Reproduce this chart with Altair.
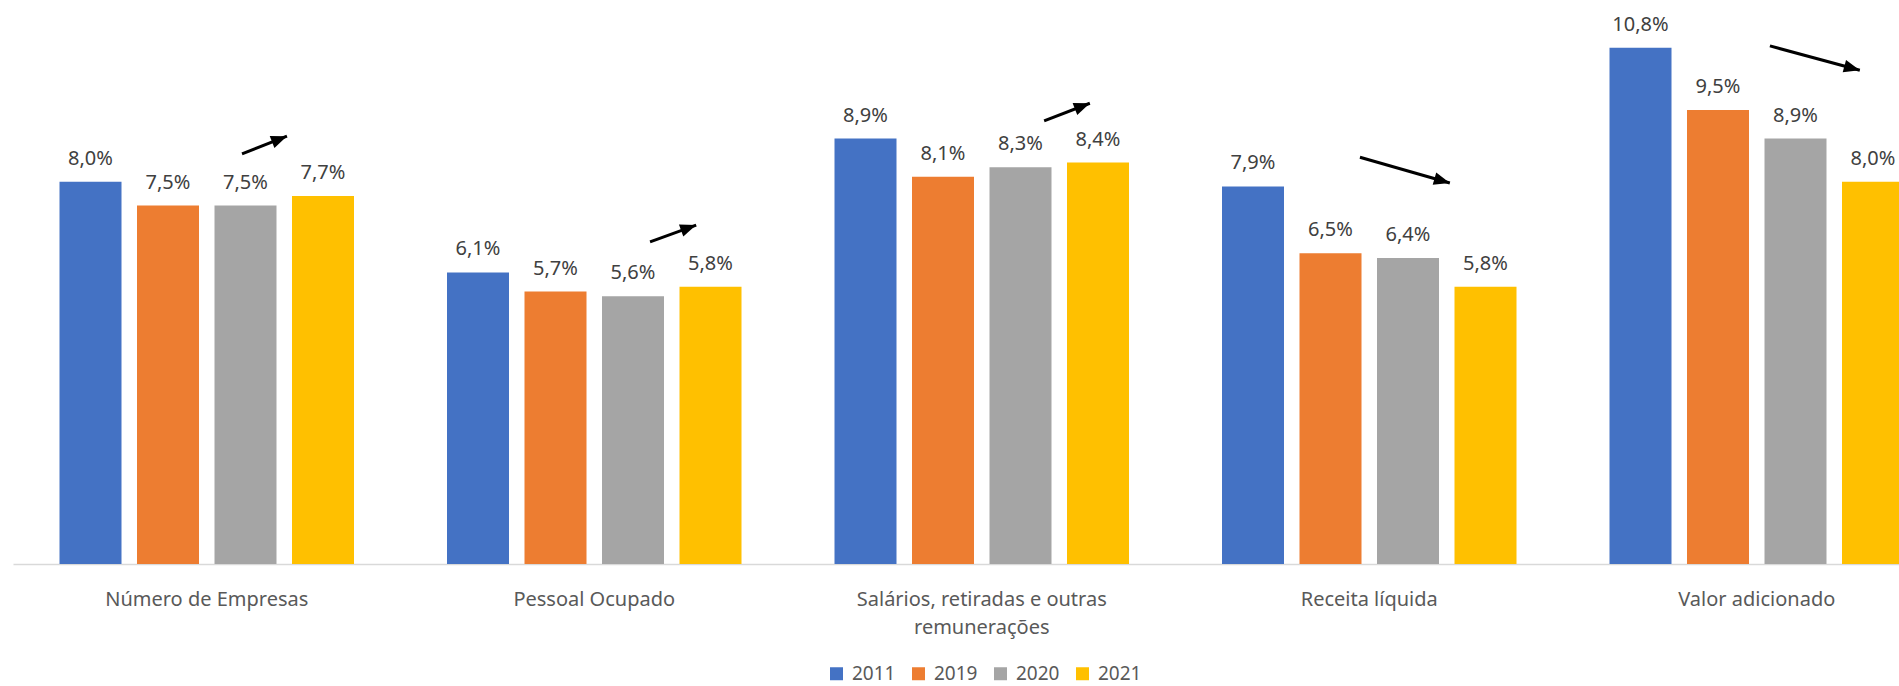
import math
import altair as alt
import pandas as pd

# ---- data -------------------------------------------------------------
categories = [
    "Número de Empresas",
    "Pessoal Ocupado",
    "Salários, retiradas e outras remunerações",
    "Receita líquida",
    "Valor adicionado",
]
years = ["2011", "2019", "2020", "2021"]
v2011 = [8.0, 6.1, 8.9, 7.9, 10.8]
v2019 = [7.5, 5.7, 8.1, 6.5, 9.5]
v2020 = [7.5, 5.6, 8.3, 6.4, 8.9]
v2021 = [7.7, 5.8, 8.4, 5.8, 8.0]
colors = ["#4472C4", "#ED7D31", "#A5A5A5", "#FFC000"]

# trend arrows: x in category-slot units (0..5), y in percent
arrow_x0 = [0.591, 1.644, 2.661, 3.476, 4.534]
arrow_y0 = [8.58, 6.74, 9.27, 8.51, 10.84]
arrow_x1 = [0.707, 1.763, 2.779, 3.708, 4.766]
arrow_y1 = [8.95, 7.09, 9.64, 7.97, 10.33]

# ---- layout -----------------------------------------------------------
FONT = "Noto Sans"
LEFT = 13
W = 1899 - LEFT
H = 564
XRANGE = 1937.5          # plot wider than window: last group is cut off
YMAX = 11.8

rows = []
for yr, vals in zip(years, [v2011, v2019, v2020, v2021]):
    for c, v in zip(categories, vals):
        rows.append({"cat": c, "year": yr, "value": v})
df = pd.DataFrame(rows)

px_x = XRANGE / len(categories)
px_y = H / YMAX
angles = [
    math.degrees(math.atan2((x1 - x0) * px_x, (y1 - y0) * px_y))
    for x0, y0, x1, y1 in zip(arrow_x0, arrow_y0, arrow_x1, arrow_y1)
]
arrows = pd.DataFrame({"x0": arrow_x0, "y0": arrow_y0, "x1": arrow_x1,
                       "y1": arrow_y1, "angle": angles})

yscale = alt.Scale(domain=[0, YMAX], nice=False, zero=True)

xband = alt.X(
    "cat:N",
    sort=categories,
    title=None,
    scale=alt.Scale(range=[0, XRANGE], paddingInner=0.24, paddingOuter=0.12),
    axis=alt.Axis(
        labelAngle=0,
        labelFont=FONT,
        labelFontSize=20,
        labelColor="#595959",
        labelBaseline="alphabetic",
        labelPadding=41,
        labelLineHeight=28,
        labelLimit=0,
        labelExpr="datum.value == 'Salários, retiradas e outras remunerações' ? "
                  "['Salários, retiradas e outras', 'remunerações'] : datum.label",
        ticks=False,
        tickSize=0,
        domainColor="#D9D9D9",
        domainWidth=1.5,
        grid=False,
        labelOverlap=False,
    ),
)
xoff = alt.XOffset("year:N", sort=years,
                   scale=alt.Scale(paddingInner=0.2, paddingOuter=0))

base = alt.Chart(df)

bars = base.mark_bar(clip=True).encode(
    x=xband,
    xOffset=xoff,
    y=alt.Y("value:Q", scale=yscale, axis=None),
    color=alt.Color(
        "year:N",
        scale=alt.Scale(domain=years, range=colors),
        legend=alt.Legend(
            title=None,
            orient="none",
            direction="horizontal",
            legendX=814,
            legendY=664,
            symbolType="square",
            symbolSize=169,
            symbolStrokeWidth=0,
            labelFont=FONT,
            labelFontSize=19,
            labelColor="#595959",
            labelOffset=6,
            columnPadding=13,
        ),
    ),
)

labels = base.transform_calculate(
    lbl="replace(format(datum.value, '.1f'), '.', ',') + '%'"
).mark_text(
    font=FONT, fontSize=20, color="#404040", baseline="alphabetic", dy=-17, clip=True
).encode(
    x=xband,
    xOffset=xoff,
    y=alt.Y("value:Q", scale=yscale, axis=None),
    text="lbl:N",
)

xq = alt.Scale(domain=[0, len(categories)], range=[0, XRANGE], nice=False, zero=False)
shafts = alt.Chart(arrows).mark_rule(color="black", strokeWidth=3, clip=True).encode(
    x=alt.X("x0:Q", scale=xq, axis=None),
    x2="x1:Q",
    y=alt.Y("y0:Q", scale=yscale, axis=None),
    y2="y1:Q",
)
heads = alt.Chart(arrows).mark_point(
    shape="M0,0L-0.8,2L0.8,2Z", filled=True, color="black", opacity=1,
    size=256, strokeWidth=0, clip=True
).encode(
    x=alt.X("x1:Q", scale=xq, axis=None),
    y=alt.Y("y1:Q", scale=yscale, axis=None),
    angle=alt.Angle("angle:Q", scale=None),
)
arrow_layer = alt.layer(shafts, heads)

chart = alt.layer(bars + labels, arrow_layer).resolve_scale(
    x="independent"
).properties(
    width=W,
    height=H,
    padding={"left": LEFT, "top": 0, "right": 0, "bottom": 686 - H},
    autosize=alt.AutoSizeParams(type="none"),
    background="white",
).configure_view(stroke=None)

chart.save("out.html", embed_options={"renderer": "svg", "actions": False})
